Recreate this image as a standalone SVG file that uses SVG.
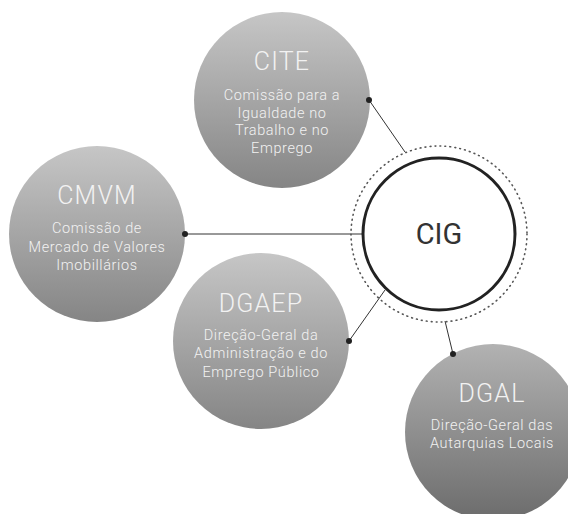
<svg xmlns="http://www.w3.org/2000/svg" width="568" height="514" viewBox="0 0 568 514">
  <defs>
    <linearGradient id="g" x1="0" y1="0" x2="0" y2="1">
      <stop offset="0" stop-color="#c6c6c6"/>
      <stop offset="1" stop-color="#858585"/>
    </linearGradient>
    <linearGradient id="g2" x1="0" y1="0" x2="0" y2="1">
      <stop offset="0" stop-color="#b2b2b2"/>
      <stop offset="1" stop-color="#6c6c6c"/>
    </linearGradient>
    <style>
      .n { stroke: none; }
      .t { font-family: Roboto, "Liberation Sans", sans-serif; fill: #f2f2f2; text-anchor: middle; }
      .h { font-size: 25px; font-weight: 300; letter-spacing: 1.2px; }
      .s { font-size: 14.5px; font-weight: 300; letter-spacing: 0.6px; }
      .c { stroke: #333; stroke-width: 1; fill: none; }
      .d { fill: #222; }
    </style>
  </defs>
  <g id="connectors">
    <line class="c" x1="369" y1="100" x2="405" y2="152"/>
    <line class="c" x1="185" y1="234" x2="363" y2="234"/>
    <line class="c" x1="349" y1="341" x2="385" y2="290"/>
    <line class="c" x1="445" y1="321" x2="453" y2="354"/>
  </g>
  <g id="CIG">
    <circle cx="439" cy="234" r="88" fill="none" stroke="#555" stroke-width="1.6" stroke-dasharray="0.8 4.2" stroke-linecap="round"/>
    <circle cx="439" cy="234" r="76" fill="#fff" stroke="#222" stroke-width="3"/>
    <text x="439" y="244" font-family="Roboto, 'Liberation Sans', sans-serif" font-size="29" fill="#333" text-anchor="middle">CIG</text>
  </g>
  <g id="CITE">
    <circle class="n" cx="282" cy="100" r="88" fill="url(#g)"/>
    <text class="t h" x="282" y="70">CITE</text>
    <text class="t s" x="282" y="100">Comissão para a</text>
    <text class="t s" x="282" y="117.5">Igualdade no</text>
    <text class="t s" x="282" y="135">Trabalho e no</text>
    <text class="t s" x="282" y="152.5">Emprego</text>
    <circle class="d" cx="369" cy="100" r="3"/>
  </g>
  <g id="CMVM">
    <circle class="n" cx="97" cy="234" r="88" fill="url(#g)"/>
    <text class="t h" x="97" y="204">CMVM</text>
    <text class="t s" x="97" y="233">Comissão de</text>
    <text class="t s" x="97" y="251.5">Mercado de Valores</text>
    <text class="t s" x="97" y="270">Imobillários</text>
    <circle class="d" cx="185" cy="234" r="3"/>
  </g>
  <g id="DGAEP">
    <circle class="n" cx="261" cy="341" r="88" fill="url(#g)"/>
    <text class="t h" x="261" y="312">DGAEP</text>
    <text class="t s" x="261" y="340">Direção-Geral da</text>
    <text class="t s" x="261" y="358">Administração e do</text>
    <text class="t s" x="261" y="376.5">Emprego Público</text>
    <circle class="d" cx="349" cy="341" r="3"/>
  </g>
  <g id="DGAL">
    <circle class="n" cx="493" cy="432" r="88" fill="url(#g2)"/>
    <text class="t h" x="492" y="402">DGAL</text>
    <text class="t s" x="492" y="430">Direção-Geral das</text>
    <text class="t s" x="492" y="448">Autarquias Locais</text>
    <circle class="d" cx="453" cy="354" r="3"/>
  </g>
</svg>
